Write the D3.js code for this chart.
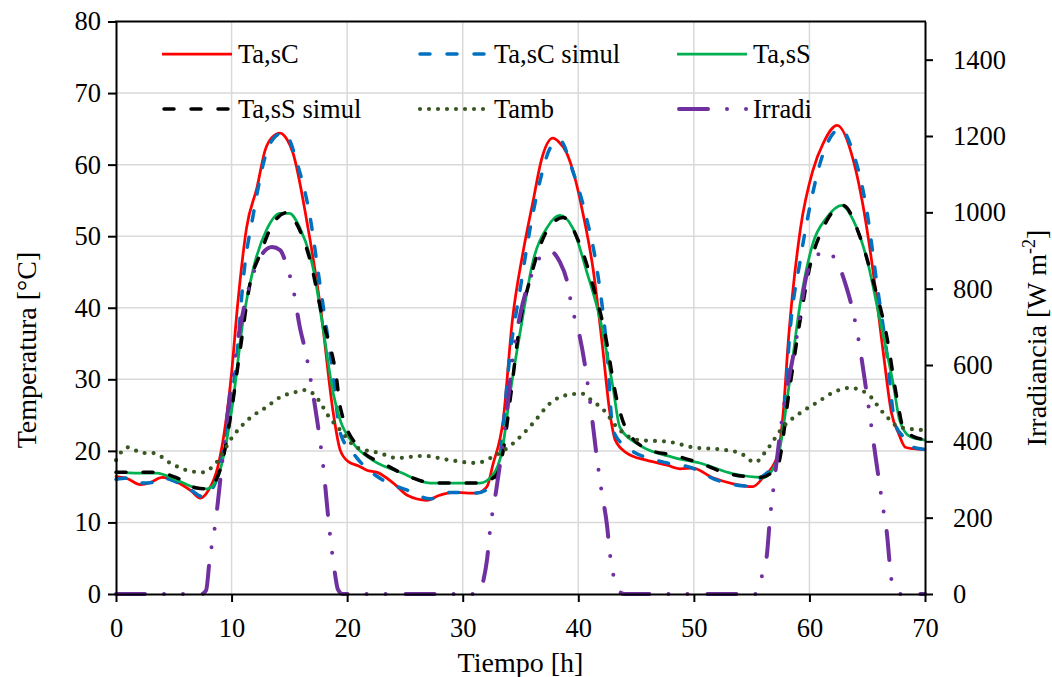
<!DOCTYPE html>
<html><head><meta charset="utf-8">
<script src="https://cdn.jsdelivr.net/npm/d3@7"></script>
<style>
body{margin:0;background:#fff}
svg text{font-family:"Liberation Serif","Times New Roman",serif !important;fill:#000}
</style>
</head><body>
<svg id="c" width="1052" height="677"></svg>
<script>
// ---------- data ----------
const xTicks = [0,10,20,30,40,50,60,70];
const yTicks = [0,10,20,30,40,50,60,70,80];
const y2Ticks = [0,200,400,600,800,1000,1200,1400];

const tasC = [[0,16.4],[1,16.1],[2.1,15.3],[3,15.6],[4,16.3],[5.3,15.6],[6.5,14.4],[7.3,13.4],[8,14.5],[8.8,17.7],[9.5,24],[10,30.9],[10.5,40],[11.3,51.2],[12.2,56.8],[12.9,62],[13.5,63.8],[14.2,64.4],[14.8,63.5],[15.3,61.7],[16.5,52.2],[17.7,40],[18.8,25.3],[19.4,20.1],[20.1,18.5],[21,17.9],[21.7,17.3],[22.6,17.0],[24,15.5],[25.2,13.8],[26.9,13.1],[28,13.8],[29.2,14.2],[30.5,14.1],[31.2,14.1],[32.1,15],[32.6,18],[33.5,24.3],[34.3,38.3],[35.2,47.6],[36.1,55],[36.8,60.6],[37.8,63.7],[38.3,63.2],[39,61.6],[39.7,58.2],[40.4,53.2],[41.3,45.2],[42.1,34.5],[42.7,25.7],[43.2,21.5],[44.2,19.7],[45.9,18.7],[47.7,18.0],[48.8,17.5],[49.9,17.6],[51.7,16.2],[53.4,15.4],[55.1,15.0],[56,16.3],[57.2,19.1],[57.7,24.7],[58.2,35.9],[59.2,50.8],[60.3,59.2],[61.2,63],[62.4,65.5],[63.8,60.6],[64.6,54.6],[65.5,45.2],[66.4,33.6],[67.1,25.3],[67.7,22.5],[68.3,20.5],[69,20.3],[70,20.2]];

const tasCsim = [[0,16.0],[1,16.2],[2.3,15.5],[3.2,15.6],[4,16.2],[5.3,15.6],[6.5,14.5],[7.5,13.6],[8.5,15.2],[9.3,20],[10,27],[10.5,34],[11,43.8],[11.9,53.2],[13,61.6],[13.7,63.8],[14.4,64.4],[15,63.5],[15.6,60.6],[16.8,52.6],[17.6,43.8],[18.8,30.3],[19.4,22.5],[20.8,19.1],[23.1,15.9],[25.2,14.5],[27.2,13.3],[28.9,14.2],[31.2,14.1],[32.4,15],[33.2,19],[34.1,33.6],[35,42.9],[35.8,50.8],[36.7,57.8],[37.6,62.4],[38.4,63.4],[39.5,59.2],[40.7,52.6],[41.6,45.6],[42.5,33.6],[43,22.9],[44.2,20.5],[47.7,18.3],[49.7,17.7],[52,15.9],[54.6,15.1],[56.3,16.9],[57.2,18],[57.8,25],[58.3,36.4],[59.2,46.6],[60.1,54.6],[61.2,61.6],[62.7,65],[63.8,61.6],[65,53.2],[65.8,43.8],[66.7,33.6],[67.4,23.9],[68.1,22],[69,20.5],[70,20.2]];

const tasS = [[0,17.0],[2,16.9],[3.5,16.9],[5.3,15.9],[7,14.8],[7.9,14.7],[8.7,15.9],[9.4,20],[10.1,26.7],[11,38.3],[11.9,45.6],[13,50.8],[14.2,53.2],[15,53.2],[15.9,51.2],[17.1,45.2],[17.9,37.3],[18.8,28],[19.4,24.3],[20.5,21.1],[22.2,18.7],[24.6,17],[27.2,15.5],[29,15.5],[31.5,15.5],[32.6,16.6],[33.4,20],[34.1,28],[35,36.9],[36.1,46.6],[37.3,51.2],[38.4,52.9],[39.5,51.2],[40.7,45.2],[41.9,38.3],[43,28.9],[43.6,23.3],[45.3,20.8],[48.2,19.1],[50.5,18.3],[53.4,16.8],[56,16.3],[57.2,18.7],[58.3,29.9],[59.2,40.6],[60.3,49],[61.5,52.6],[62.8,54.3],[63.8,52.2],[65,46.6],[66.1,38.3],[67.3,28.9],[67.8,24.3],[68.7,22],[70,21.5]];

const tasSsim = [[0,17.0],[3.5,17.0],[5.3,16.2],[7,14.8],[7.9,14.7],[9,17.3],[9.9,24.7],[10.7,33.6],[11.6,43.4],[12.5,47.6],[13.6,51.8],[14.8,53.3],[15.6,51.8],[16.8,46.6],[17.9,38.3],[19.1,29.9],[19.4,26.1],[21,20.5],[23.4,18],[25.7,16.2],[27.4,15.5],[31.5,15.5],[32.9,16.6],[33.5,20],[34.1,27.1],[35,38.3],[35.8,43.8],[37.3,50.8],[38.7,52.6],[40.1,49],[41.3,42.9],[42.2,37.3],[43.4,26.7],[44.2,22.9],[46.2,20.1],[48.2,19.4],[50.5,18.3],[52.8,16.9],[55.7,16.3],[57.2,17.7],[58.3,28.9],[59.2,38.3],[60.1,46.2],[61.2,51.2],[62.9,54.3],[64.4,49.8],[65.5,43.8],[66.7,35.9],[67.6,27.1],[68.1,23.3],[69,22],[70,21.6]];

const tamb = [[0,18.7],[1,20.5],[2.3,19.7],[3.2,19.7],[4.7,18.3],[6.1,17.3],[7.5,17.0],[8.7,18.4],[10.1,22],[11.6,24.6],[13,26.1],[14.2,27.5],[15.5,28.2],[16.4,28.5],[17.7,26.7],[18.2,25.3],[19.4,22.9],[20.8,20.5],[22.8,19.7],[24.3,19],[26.6,19.3],[28.9,18.7],[31.2,18.3],[32.4,19],[34.4,21.1],[36.1,23.9],[37.6,26.7],[39,27.8],[40.3,28],[41.2,27],[42.2,25.7],[43.4,23.2],[45.3,21.5],[47.7,21.3],[49.9,20.5],[52.3,20.2],[54,19.7],[55.3,18.4],[56.3,20.1],[57.7,23.3],[59.2,25.3],[60.7,26.8],[62.1,28.2],[63.5,28.8],[65,28],[66.4,25.3],[67.8,23.3],[70,22.9]];

const irr = [[0,0],[7.4,0],[7.8,10],[8.1,89],[8.6,186],[9.1,320],[9.6,456],[10.3,620],[11,740],[11.7,823],[12.7,893],[13.5,909],[14.2,901],[14.8,857],[15.3,804],[15.9,700],[16.5,621],[16.8,569],[17.4,456],[17.9,343],[18.5,160],[18.9,63],[19.2,12],[19.6,0],[31.3,0],[31.8,37],[32.1,89],[32.4,176],[32.9,272],[33.9,500],[34.3,613],[35,736],[35.8,823],[36.4,867],[37.4,901],[38.4,870],[39,823],[39.5,744],[40,692],[40.6,595],[41,508],[41.6,359],[42,272],[42.5,176],[42.7,115],[43.2,30],[43.6,5],[44,0],[55.3,0],[55.7,37],[56,55],[56.3,97],[56.6,202],[56.9,280],[57.7,474],[58.9,673],[59.8,841],[60.7,888],[61.5,901],[62.1,883],[62.7,849],[63.2,804],[63.8,736],[64.4,639],[64.7,579],[65.2,474],[65.8,343],[66.4,220],[66.7,160],[67,63],[67.2,18],[67.6,3],[68,0],[70,0]];

const seriesNames = ["Ta,sC","Ta,sC simul","Ta,sS","Ta,sS simul","Tamb","Irradi"];

// ---------- chart ----------
const FONT = '"Liberation Serif","Times New Roman",serif';
const svg = d3.select("#c");
const L=116, R=925, T=21.5, B=594;
const X = d3.scaleLinear().domain([0,70]).range([L,R]);
const Y = d3.scaleLinear().domain([0,80]).range([B,T]);
const Y2 = d3.scaleLinear().domain([0,1500]).range([B,T]);

// grid
svg.append("g").selectAll("line").data(yTicks.filter(d=>d>0&&d<80)).join("line")
  .attr("x1",L).attr("x2",R).attr("y1",d=>Y(d)).attr("y2",d=>Y(d))
  .attr("stroke","#d9d9d9").attr("stroke-width",1.5);
svg.append("g").selectAll("line").data(xTicks.filter(d=>d>0&&d<70)).join("line")
  .attr("y1",T).attr("y2",B).attr("x1",d=>X(d)).attr("x2",d=>X(d))
  .attr("stroke","#d9d9d9").attr("stroke-width",1.5);

// series
const styles = [
  {data:tasC, scale:Y, color:"#ff0000", w:2.75, dash:null},
  {data:tasCsim, scale:Y, color:"#0070c0", w:3.5, dash:"10,17"},
  {data:tasS, scale:Y, color:"#00b050", w:2.75, dash:null},
  {data:tasSsim, scale:Y, color:"#000000", w:3.5, dash:"10,17"},
  {data:tamb, scale:Y, color:"#385723", w:4.2, dash:"0,9"},
  {data:irr, scale:Y2, color:"#7030a0", w:4, dash:"29,19,0,19,0,20"}
];
styles.forEach(s=>{
  const line = d3.line().x(d=>X(d[0])).y(d=>s.scale(d[1])).curve(d3.curveMonotoneX);
  svg.append("path").datum(s.data).attr("d",line)
    .attr("fill","none").attr("stroke",s.color).attr("stroke-width",s.w)
    .attr("stroke-dasharray",s.dash).attr("stroke-linecap","round").attr("stroke-linejoin","round");
});

// axes
const fs = 26.5, tfs = 28;
const fmt = d3.format("d");
const ax = svg.append("g").attr("transform",`translate(${L},0)`)
  .call(d3.axisLeft(Y).tickValues(yTicks).tickFormat(fmt).tickSize(8).tickSizeOuter(0).tickPadding(7));
const ax2 = svg.append("g").attr("transform",`translate(${R},0)`)
  .call(d3.axisRight(Y2).tickValues(y2Ticks).tickFormat(fmt).tickSize(8).tickSizeOuter(0).tickPadding(20));
const axb = svg.append("g").attr("transform",`translate(0,${B})`)
  .call(d3.axisBottom(X).tickValues(xTicks).tickFormat(fmt).tickSize(8).tickSizeOuter(0).tickPadding(16));
[ax,ax2,axb].forEach(g=>{
  g.attr("font-family",FONT).attr("font-size",fs);
  g.select(".domain").attr("stroke","#000").attr("stroke-width",2);
  g.selectAll(".tick line").attr("stroke","#000").attr("stroke-width",2);
  g.selectAll(".tick text").style("font-family",FONT).style("font-size",fs+"px").attr("fill","#000");
});
// top frame
svg.append("line").attr("x1",L-1).attr("x2",R+1).attr("y1",T).attr("y2",T)
  .attr("stroke","#000").attr("stroke-width",2);

// titles
svg.append("text").attr("x",(L+R)/2).attr("y",672).attr("text-anchor","middle")
  .style("font-size",tfs+"px").text("Tiempo [h]");
svg.append("text").attr("transform","translate(36,350) rotate(-90)").attr("text-anchor","middle")
  .style("font-size",tfs+"px").text("Temperatura [°C]");
const rt = svg.append("text").attr("transform","translate(1046,338) rotate(-90)").attr("text-anchor","middle")
  .style("font-size",tfs+"px");
rt.append("tspan").text("Irradiancia [W m");
rt.append("tspan").style("font-size","18px").attr("dy",-11).text("-2");
rt.append("tspan").attr("dy",11).text("]");

// legend
const legPos = [[162,54],[418,54],[677,54],[162,109],[418,109],[677,109]];
styles.forEach((s,i)=>{
  const [lx,ly] = legPos[i];
  svg.append("line").attr("x1",lx+(s.dash?2:0)).attr("x2",lx+70).attr("y1",ly).attr("y2",ly)
    .attr("stroke",s.color).attr("stroke-width",s.w)
    .attr("stroke-dasharray",s.dash).attr("stroke-linecap",s.dash?"round":"butt");
  svg.append("text").attr("x",lx+76).attr("y",ly+8.5).style("font-size",fs+"px").text(seriesNames[i]);
});
</script>
</body></html>
